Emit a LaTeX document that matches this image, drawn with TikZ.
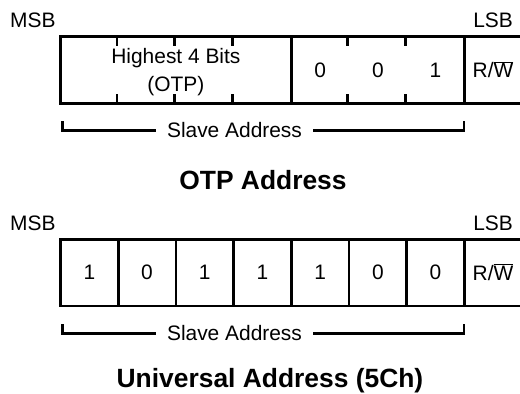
\documentclass[tikz,border=0pt]{standalone}
\usepackage{fontspec}
\setmainfont{Liberation Sans}
\usetikzlibrary{positioning}

\begin{document}
\begin{tikzpicture}[x=1bp, y=-1bp,
    reg/.style={draw, line width=2.6bp, minimum height=66.6bp, inner sep=0pt},
    bit/.style={font=\fontsize{21}{24}\selectfont, inner sep=0pt},
    lbl/.style={font=\fontsize{21}{24}\selectfont, inner sep=0pt},
    ttl/.style={font=\fontsize{26.5}{30}\selectfont\bfseries, anchor=base, inner sep=0pt},
    tick/.style={line width=2.6bp},
    brk/.style={line width=2.6bp}]
  \useasboundingbox (0,0) rectangle (520,393);
  % OTP address
  \node[lbl, anchor=base west] (msbA) at (10,27.5) {MSB};
  \node[lbl, anchor=base east] (lsbA) at (513,27) {LSB};
  \node[reg, minimum width=230.8bp] (hiA) at (175.9,70) {};
  \node[reg, minimum width=173.1bp] (loA) at (377.85,70) {};
  \node[reg, minimum width=57.7bp] (rwA) at (493.25,70) {};
  \foreach \k in {1,2,3} {
    \draw[tick] (hiA.north west) ++(\k*57.7,0) -- ++(0,11);
    \draw[tick] (hiA.south west) ++(\k*57.7,0) -- ++(0,-11);
  }
  \foreach \k in {1,2} {
    \draw[tick] (loA.north west) ++(\k*57.7,0) -- ++(0,11);
    \draw[tick] (loA.south west) ++(\k*57.7,0) -- ++(0,-11);
  }
  \node[lbl, align=center, font=\fontsize{21}{28}\selectfont] (hiT) at (175.9,72.5)
    {Highest 4 Bits\\(OTP)};
  \foreach \d [count=\i from 4] in {0,0,1}
    { \node[bit] (dA\i) at (\i*57.7+89.35,70) {\d}; }
  \node[bit, anchor=base] (rwAT) at (493,77.5) {R/$\overline{\hbox{W}}$};
  \coordinate (saAl) at (62.3,121);
  \coordinate (saAr) at (464,121);
  \node[lbl, inner xsep=11bp] (saA) at (234.5,130.5) {Slave Address};
  \draw[brk] (saAl) |- (saA.west);
  \draw[brk] (saA.east) -| (saAr);
  \node[ttl] (ttlA) at (263,189) {OTP Address};
  % universal address
  \node[lbl, anchor=base west] (msbB) at (10,230.5) {MSB};
  \node[lbl, anchor=base east] (lsbB) at (513,230) {LSB};
  \foreach \d [count=\i from 0] in {1,0,1,1,1,0,0} {
    \node[reg, minimum width=57.7bp] (cB\i) at (\i*57.7+89.35,272.5) {};
    \node[bit] (dB\i) at (cB\i.center) {\d};
  }
  \node[reg, minimum width=57.7bp] (rwB) at (493.25,272.5) {};
  \node[bit, anchor=base] (rwBT) at (493,280) {R/$\overline{\hbox{W}}$};
  \coordinate (saBl) at (62.3,324);
  \coordinate (saBr) at (464,324);
  \node[lbl, inner xsep=11bp] (saB) at (234.5,333.5) {Slave Address};
  \draw[brk] (saBl) |- (saB.west);
  \draw[brk] (saB.east) -| (saBr);
  \node[ttl] (ttlB) at (270,387) {Universal Address (5Ch)};
\end{tikzpicture}
\end{document}
